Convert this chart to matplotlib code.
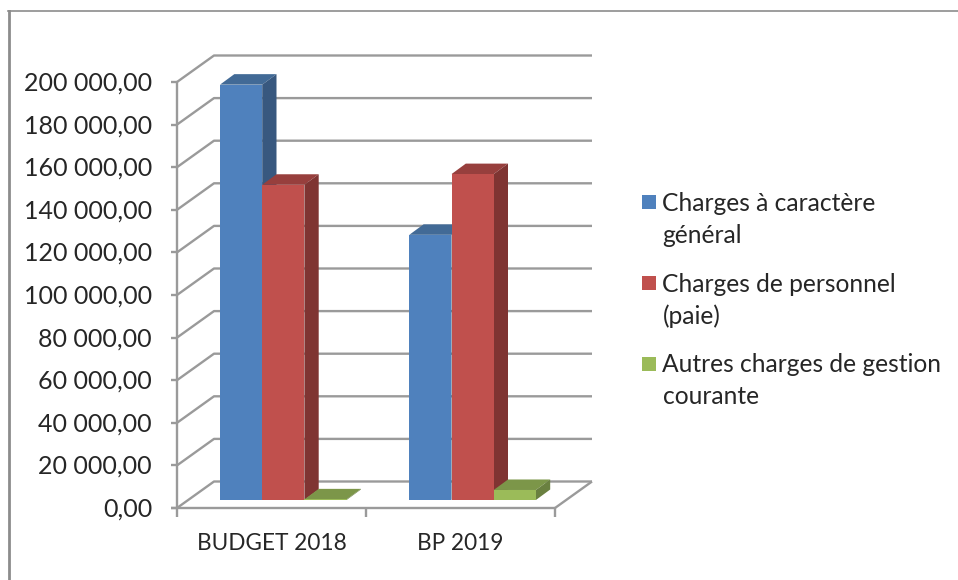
import matplotlib
matplotlib.use('Agg')
import matplotlib.pyplot as plt
from matplotlib.patches import Polygon, Rectangle
from matplotlib.lines import Line2D

plt.rcParams['font.family'] = ['Lato', 'DejaVu Sans']

# data
categories = ['BUDGET 2018', 'BP 2019']
general = [195000, 124500]
personnel = [148000, 153000]
other = [300, 4700]
series_names = ['Charges à caractère\ngénéral', 'Charges de personnel\n(paie)', 'Autres charges de gestion\ncourante']
yticks = list(range(0, 200001, 20000))

# colours: front, top, side
blue = ('#4f81bd', '#426a96', '#38587f')
red = ('#c0504d', '#973f3d', '#7f3432')
green = ('#9bbb59', '#7c9649', '#6a8040')
grid_col = '#9a9a9a'
text_col = '#262626'

W, H = 958, 580
fig = plt.figure(figsize=(W / 100, H / 100), dpi=100)

# axes box = front face of the 3d chart, in pixels
left, right, top, bottom = 177, 555, 82, 508
ax = fig.add_axes([left / W, 1 - bottom / H, (right - left) / W, (bottom - top) / H])
ax.set_xlim(0, 2)
ax.set_ylim(0, 200000)
ax.axis('off')

px_x = 2 / (right - left)
px_y = 200000 / (bottom - top)

# wall depth and bar depth
wall_dx = 37 * px_x
wall_dy = 26.5 * px_y
bar_dx = 14.3 * px_x
bar_dy = 10.5 * px_y
base_y = 8 * px_y
bar_w = 42.2 * px_x
group_start = [43 * px_x, 232.3 * px_x]


def grid_line(xs, ys, z=1):
    ax.add_line(Line2D(xs, ys, color=grid_col, lw=1.7, zorder=z, clip_on=False, solid_capstyle='butt'))


# back wall lines with the slanted part on the side wall
for t in yticks:
    grid_line([0, wall_dx, 2 + wall_dx], [t, t + wall_dy, t + wall_dy])
    grid_line([-6 * px_x, 0], [t, t], z=6)

# vertical axis, floor front and floor side
grid_line([0, 0], [0, 200000], z=6)
grid_line([-6 * px_x, 2], [0, 0], z=6)
grid_line([2, 2 + wall_dx], [0, wall_dy], z=6)
for i in range(3):
    grid_line([i, i], [0, -9 * px_y], z=6)


def bar3d(x, v, cols, z):
    y0 = base_y
    y1 = base_y + v
    ax.bar(x, v, bar_w, bottom=y0, align='edge', color=cols[0], zorder=z + 0.2, clip_on=False)
    ax.add_patch(Polygon([(x, y1), (x + bar_w, y1), (x + bar_w + bar_dx, y1 + bar_dy), (x + bar_dx, y1 + bar_dy)],
                         facecolor=cols[1], edgecolor='none', zorder=z + 0.1, clip_on=False))
    ax.add_patch(Polygon([(x + bar_w, y0), (x + bar_w, y1), (x + bar_w + bar_dx, y1 + bar_dy), (x + bar_w + bar_dx, y0 + bar_dy)],
                         facecolor=cols[2], edgecolor='none', zorder=z + 0.1, clip_on=False))


# left bar first, the next bar in the group covers its side
for g in range(len(categories)):
    bar3d(group_start[g], general[g], blue, 2)
    bar3d(group_start[g] + bar_w, personnel[g], red, 3)
    bar3d(group_start[g] + 2 * bar_w, other[g], green, 4)

# tick labels
for t in yticks:
    label = f'{t:,}'.replace(',', ' ') + ',00'
    ax.text(-25 * px_x, t - 1 * px_y, label, ha='right', va='center', fontsize=18, color=text_col, clip_on=False)
for i, c in enumerate(categories):
    ax.text(i + 0.5, -35 * px_y, c, ha='center', va='center', fontsize=16.3, color=text_col, clip_on=False)

# legend, placed by hand since each label wraps on two lines
legend_cols = [blue[0], red[0], green[0]]
box_tops = [195, 276, 357]
text_y = [203.5, 284.5, 364.5]
for name, col, by, ty in zip(series_names, legend_cols, box_tops, text_y):
    fig.add_artist(Rectangle((642 / W, 1 - (by + 14) / H), 14 / W, 14 / H, transform=fig.transFigure, facecolor=col, edgecolor='none'))
    first, second = name.split('\n')
    fig.text(662.5 / W, 1 - ty / H, first, ha='left', va='center', fontsize=17.7, color=text_col)
    fig.text(662.5 / W, 1 - (ty + 32) / H, second, ha='left', va='center', fontsize=17.7, color=text_col)

# outer frame of the chart, only top and left are visible
fig.add_artist(Line2D([8 / W, 1], [1 - 11 / H, 1 - 11 / H], color='#8c8c8c', lw=1.2))
fig.add_artist(Line2D([9.3 / W, 9.3 / W], [0, 1 - 11 / H], color='#8c8c8c', lw=2))

fig.savefig('out.png', dpi=100)
